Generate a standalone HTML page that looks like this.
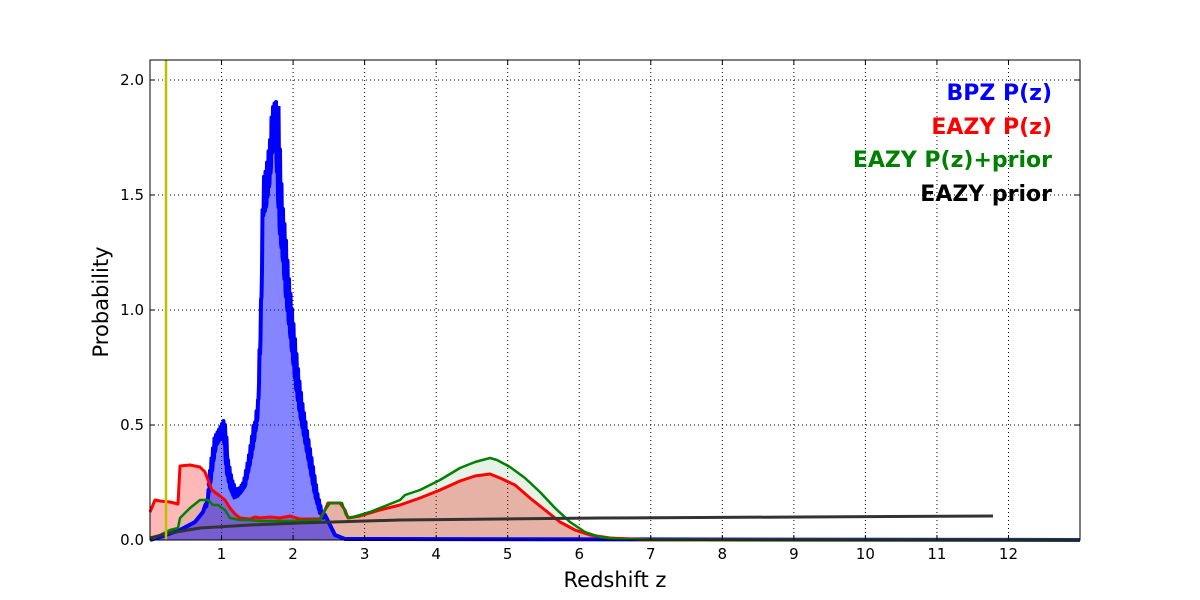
<!DOCTYPE html>
<html><head><meta charset="utf-8"><style>
body{margin:0;background:#fff;}
svg{display:block;font-family:"DejaVu Sans","Liberation Sans",sans-serif;}
</style></head><body>
<svg id="s" width="1200" height="600" xmlns="http://www.w3.org/2000/svg">
<rect width="1200" height="600" fill="#fff"/>
<g id="grid" stroke="#000" stroke-width="1" stroke-dasharray="1,3"></g>
<g id="plots"></g>
<line x1="166" y1="60" x2="166" y2="540" stroke="#bfbf00" stroke-width="2.5"/>
<rect x="150" y="60" width="930" height="480" fill="none" stroke="#000" stroke-width="1"/>
<g id="ticks" stroke="#000"></g>
<g id="labels" font-size="15" fill="#000"></g>
<text x="615" y="587" font-size="21" text-anchor="middle">Redshift z</text>
<text transform="translate(108,302) rotate(-90)" font-size="21" text-anchor="middle">Probability</text>
<g font-size="22" font-weight="bold" text-anchor="end">
<text x="1052" y="100" fill="#0000ff">BPZ P(z)</text>
<text x="1052" y="134" fill="#ff0000">EAZY P(z)</text>
<text x="1052" y="167" fill="#008000">EAZY P(z)+prior</text>
<text x="1052" y="201" fill="#000">EAZY prior</text>
</g>
</svg>
<script>
var NS="http://www.w3.org/2000/svg";
function el(p,t,a){var e=document.createElementNS(NS,t);for(var k in a)e.setAttribute(k,a[k]);p.appendChild(e);return e;}
var grid=document.getElementById('grid'),ticks=document.getElementById('ticks'),lab=document.getElementById('labels');
for(var i=1;i<=12;i++){var x=150+i*71.54;el(grid,'line',{x1:x,y1:60,x2:x,y2:540});
el(ticks,'line',{x1:x,y1:540,x2:x,y2:535});el(ticks,'line',{x1:x,y1:60,x2:x,y2:65});
var t=el(lab,'text',{x:x,y:559,'text-anchor':'middle'});t.textContent=i;}
for(var j=0;j<=4;j++){var v=j*0.5,y=540-v*230;if(j>0)el(grid,'line',{x1:150,y1:y,x2:1080,y2:y});
el(ticks,'line',{x1:150,y1:y,x2:155,y2:y});el(ticks,'line',{x1:1080,y1:y,x2:1075,y2:y});
var t=el(lab,'text',{x:144,y:y+5,'text-anchor':'end'});t.textContent=v.toFixed(1);}
var P=document.getElementById('plots');
function pts(a){return a.map(function(p){return p[0]+','+p[1]}).join(' ');}
function fill(a,c){var b=a.slice();b.push([b[b.length-1][0],540]);b.unshift([a[0][0],540]);el(P,'polygon',{points:pts(b),fill:c,stroke:'none'});}
function line(a,c,w){el(P,'polyline',{points:pts(a),fill:'none',stroke:c,'stroke-width':w,'stroke-linejoin':'round'});}
var red=[[150,512],[155,500],[160,501],[170,502],[178,504],[180,466],[190,465],[200,467],[205,472],[208,480],[212,490],[216,493],[220,496],[225,500],[230,508],[235,514],[240,518],[250,519],[255,517],[260,518],[270,517],[280,518],[290,516],[300,519],[320,519],[325,510],[328,503],[340,503],[345,510],[348,518],[360,516],[380,510],[400,505],[420,498],[440,490],[460,481],[475,476],[490,474],[500,478],[515,485],[530,498],[545,510],[560,522],[575,530],[590,535],[610,538],[650,540],[1080,540]];
var green=[[150,540],[160,535],[170,530],[178,528],[180,518],[190,508],[200,500],[208,500],[213,505],[218,505],[225,510],[230,518],[240,520],[250,520],[260,521],[290,521],[320,520],[325,510],[330,503],[342,503],[346,515],[350,518],[370,512],[385,506],[400,500],[405,495],[420,490],[440,480],[460,468],[475,462],[490,458],[497,460],[510,467],[525,478],[540,492],[555,508],[570,522],[585,532],[600,537],[620,539],[660,540],[1080,540]];
var blueBase=[[150,540],[160,537],[180,530],[195,522],[203,512],[207,500],[210,480],[213,455],[216,435],[220,428],[224,420],[226,430],[228,460],[232,480],[236,490],[240,488],[245,480],[250,455],[254,430],[258,400],[261,300],[263,180],[266,170],[268,155],[270,140],[272,110],[274,104],[276,102],[278,160],[280,200],[283,230],[286,270],[289,300],[292,330],[296,370],[300,400],[305,430],[310,460],[315,490],[320,510],[325,515],[330,525],[335,535],[345,539],[1080,540]];
function interp(a,x){for(var i=1;i<a.length;i++)if(x<=a[i][0]){var t=(x-a[i-1][0])/(a[i][0]-a[i-1][0]);return a[i-1][1]+t*(a[i][1]-a[i-1][1]);}return 540;}
var blue=[];for(var x=150;x<=345;x+=0.5){var y=interp(blueBase,x);
if(x>205&&x<325){var amp=(540-y)*0.1;y+=((Math.floor(x*2)%3)?amp:0);}blue.push([x,Math.min(540,y)]);}
blue.push([1080,540]);
var prior=[[150,538],[170,533],[200,528],[250,525],[300,523],[400,520],[500,519],[600,518],[800,517],[993,516]];
fill(red,'rgba(255,0,0,0.28)');
fill(green,'rgba(0,128,0,0.1)');
fill(blue,'rgba(0,0,255,0.48)');
line(blue,'#0000ff',4);
var band=blue.filter(function(p){return p[0]>=276&&p[0]<=322;}).map(function(p){return [p[0]+2.5,p[1]+4];});
line(band,'#0000ff',4);
var band2=blue.filter(function(p){return p[0]>=210&&p[0]<=256;}).map(function(p){return [p[0]-2,p[1]+3];});
line(band2,'#0000ff',3);
line(red,'#ff0000',3);
line(green,'#008000',2.5);
line(prior,'#333',3);
</script>
</body></html>
